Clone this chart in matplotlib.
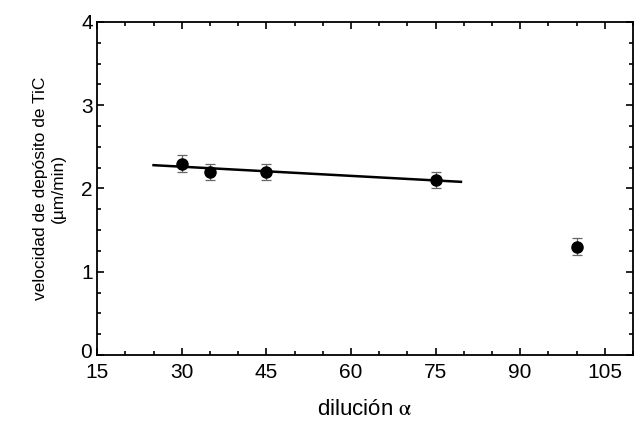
import matplotlib
matplotlib.use("Agg")
import matplotlib.pyplot as plt
from matplotlib.ticker import MultipleLocator, FuncFormatter

plt.rcParams['font.family'] = ['Liberation Sans', 'DejaVu Sans']
plt.rcParams['mathtext.fontset'] = 'stix'

dilution = [30, 35, 45, 75, 100]
rate = [2.3, 2.2, 2.2, 2.1, 1.3]
rate_err = [0.1, 0.1, 0.1, 0.1, 0.1]
fit_x = [25, 79.5]
fit_y = [2.28, 2.08]

fig = plt.figure(figsize=(6.39, 4.22), dpi=100)
ax = fig.add_axes([0.152, 0.1588, 0.8386, 0.7891])

ax.plot(fit_x, fit_y, color='black', lw=1.8, zorder=2)
ax.errorbar(dilution, rate, yerr=rate_err, fmt='o', color='black', ms=8,
            ecolor='#666666', elinewidth=0.9, capsize=3.5, capthick=0.9, zorder=3)

ax.set_xlim(15, 110)
ax.set_ylim(0, 4)
ax.xaxis.set_major_locator(MultipleLocator(15))
ax.xaxis.set_minor_locator(MultipleLocator(5))
ax.yaxis.set_major_locator(MultipleLocator(1))
ax.yaxis.set_minor_locator(MultipleLocator(0.25))
ax.yaxis.set_major_formatter(FuncFormatter(lambda v, p: '' if abs(v) < 1e-9 else f'{v:g}'))
ax.tick_params(which='both', direction='in', top=True, right=True, width=1.2)
ax.tick_params(which='major', length=5, labelsize=15)
ax.tick_params(axis='x', which='major', pad=6)
ax.tick_params(axis='y', which='major', pad=3)
ax.tick_params(which='minor', length=3)
for s in ax.spines.values():
    s.set_linewidth(1.3)

# y-axis "0" label, nudged slightly up so it does not collide with "15"
ax.annotate('0', xy=(0, 0), xycoords='axes fraction', xytext=(-4, 3),
            textcoords='offset points', ha='right', va='center_baseline', fontsize=15)

ax.set_xlabel('dilución $\\mathrm{\\alpha}$', fontsize=16, labelpad=12)
ax.set_ylabel('velocidad de depósito de TiC\n(µm/min)', fontsize=12.5, labelpad=11, linespacing=1.25)

fig.savefig('out.png', dpi=100)
